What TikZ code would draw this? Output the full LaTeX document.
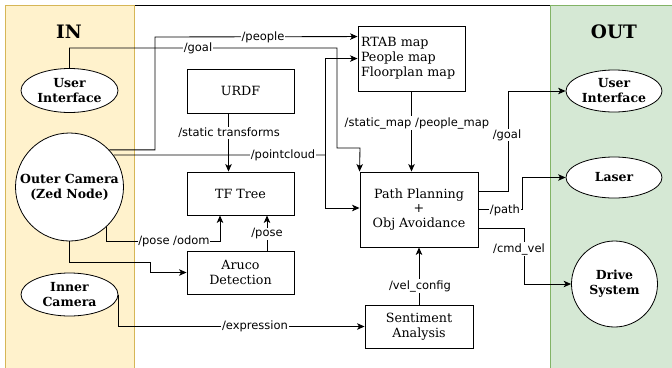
\documentclass[tikz,border=0pt]{standalone}
\usepackage{fontspec}
\setmainfont{DejaVu Serif}
\newfontfamily\labelfont{DejaVu Sans}
\usetikzlibrary{arrows.meta, shapes.geometric}

\definecolor{inbg}{HTML}{FFF2CC}
\definecolor{inborder}{HTML}{D6B656}
\definecolor{outbg}{HTML}{D5E8D4}
\definecolor{outborder}{HTML}{82B366}

\tikzset{
  procbox/.style={draw, line width=0.9pt, inner sep=0pt, align=center,
    font=\fontsize{12.7}{14.5}\selectfont},
  term/.style={ellipse, draw, line width=0.8pt, fill=white, inner sep=0pt,
    align=center, font=\bfseries\fontsize{12.5}{15}\selectfont},
  termround/.style={circle, draw, line width=0.8pt, fill=white, inner sep=0pt,
    align=center, font=\bfseries\fontsize{12.5}{15}\selectfont},
  wire/.style={line width=0.85pt, -{Stealth[length=7.5pt, width=6.5pt, inset=2pt]}},
  plainwire/.style={line width=0.85pt},
  lbl/.style={fill=white, inner sep=0.8pt, font=\labelfont\fontsize{11.5}{13}\selectfont},
  paneltitle/.style={font=\bfseries\fontsize{18.5}{20}\selectfont},
}

\begin{document}
\begin{tikzpicture}[x=1pt, y=-1pt]
\useasboundingbox (0,0) rectangle (672,367);

% panels
\draw[line width=0.9pt, fill=white] (134,5) rectangle (550,370);
\draw[line width=0.9pt, fill=inbg, draw=inborder] (5,5) rectangle (134,370);
\draw[line width=0.9pt, fill=outbg, draw=outborder] (550,5) rectangle (680,370);
\node[paneltitle] (intitle) at (69,32) {IN};
\node[paneltitle] (outtitle) at (614,32) {OUT};

% sources
\node[term, minimum width=97pt, minimum height=44pt] (uiin) at (69.5,90.5) {User\\Interface};
\node[termround, minimum size=108pt] (outer) at (69.5,187) {Outer Camera\\(Zed Node)};
\node[term, minimum width=97pt, minimum height=43pt] (incam) at (69.5,294.5) {Inner\\Camera};

% processing
\node[procbox, minimum width=107pt, minimum height=44pt] (urdf) at (240.5,91) {URDF};
\node[procbox, minimum width=107pt, minimum height=43pt] (tf) at (240.5,193.5) {TF Tree};
\node[procbox, minimum width=107pt, minimum height=43pt] (aruco) at (240.5,272.5) {Aruco\\Detection};
\node[procbox, text width=101pt, inner xsep=3pt, minimum height=65pt, align=left,
      font=\fontsize{12.7}{15}\selectfont] (rtab) at (411.5,58.5) {RTAB map\\People map\\Floorplan map};
\node[procbox, minimum width=118pt, minimum height=75pt] (pp) at (419,209.5) {Path Planning\\+\\Obj Avoidance};
\node[procbox, minimum width=108pt, minimum height=43pt] (sent) at (419,326.5) {Sentiment\\Analysis};

% sinks
\node[term, minimum width=96pt, minimum height=42pt] (uiout) at (614,91) {User\\Interface};
\node[term, minimum width=96pt, minimum height=41pt] (laser) at (614,177.5) {Laser};
\node[termround, minimum size=86pt] (drive) at (614.5,284) {Drive\\System};

% connectors
\draw[wire] (outer.43) -| (155,37) -- ([yshift=-11pt]rtab.north west);
\node[lbl] (lpeople) at (263,37) {/people};

\draw[wire] (uiin.north) |- (337,48) |- (360,148) -- (pp.north west);
\node[lbl] (lgoalin) at (198,48) {/goal};

\coordinate (pcsplit) at (325,155);
\draw[plainwire] (outer.36) -- (pcsplit);
\draw[wire] (pcsplit) |- ([yshift=-33pt]rtab.north west);
\draw[wire] (pcsplit) |- ([yshift=1.5pt]pp.west);
\node[lbl] (lpc) at (283,155) {/pointcloud};

\draw[wire] ([xshift=-12pt]urdf.south) -- ([xshift=-12pt]tf.north);
\node[lbl] (lstatic) at (229,133) {/static transforms};

\draw[wire] (outer.-47) |- (220,241) -- ([xshift=-20.5pt]tf.south);
\node[lbl] (lodom) at (174,241) {/pose /odom};

\draw[wire] ([xshift=26.5pt]aruco.north) -- ([xshift=26.5pt]tf.south);
\node[lbl] (lpose) at (267,234) {/pose};

\draw[wire] (outer.south) |- (150,262) |- (aruco.west);

\draw[wire] (incam.east) |- (sent.west);
\node[lbl] (lexpr) at (255,326.5) {/expression};

\draw[wire] (rtab.south) -- (rtab.south |- pp.north);
\node[lbl] (lmaps) at (417,123) {/static\_map /people\_map};

\draw[wire] (sent.north) -- (pp.south);
\node[lbl] (lvel) at (420,286) {/vel\_config};

\draw[wire] ([yshift=18.5pt]pp.east) -| (508,91) -- (uiout.west);
\node[lbl] (lgoalout) at (507,135) {/goal};

\draw[wire] (pp.east) -| (522,177.5) -- (laser.west);
\node[lbl] (lpath) at (505,210) {/path};

\draw[wire] ([yshift=-18.5pt]pp.east) -| (524,284) -- (drive.west);
\node[lbl] (lcmd) at (519,249) {/cmd\_vel};
\end{tikzpicture}
\end{document}
